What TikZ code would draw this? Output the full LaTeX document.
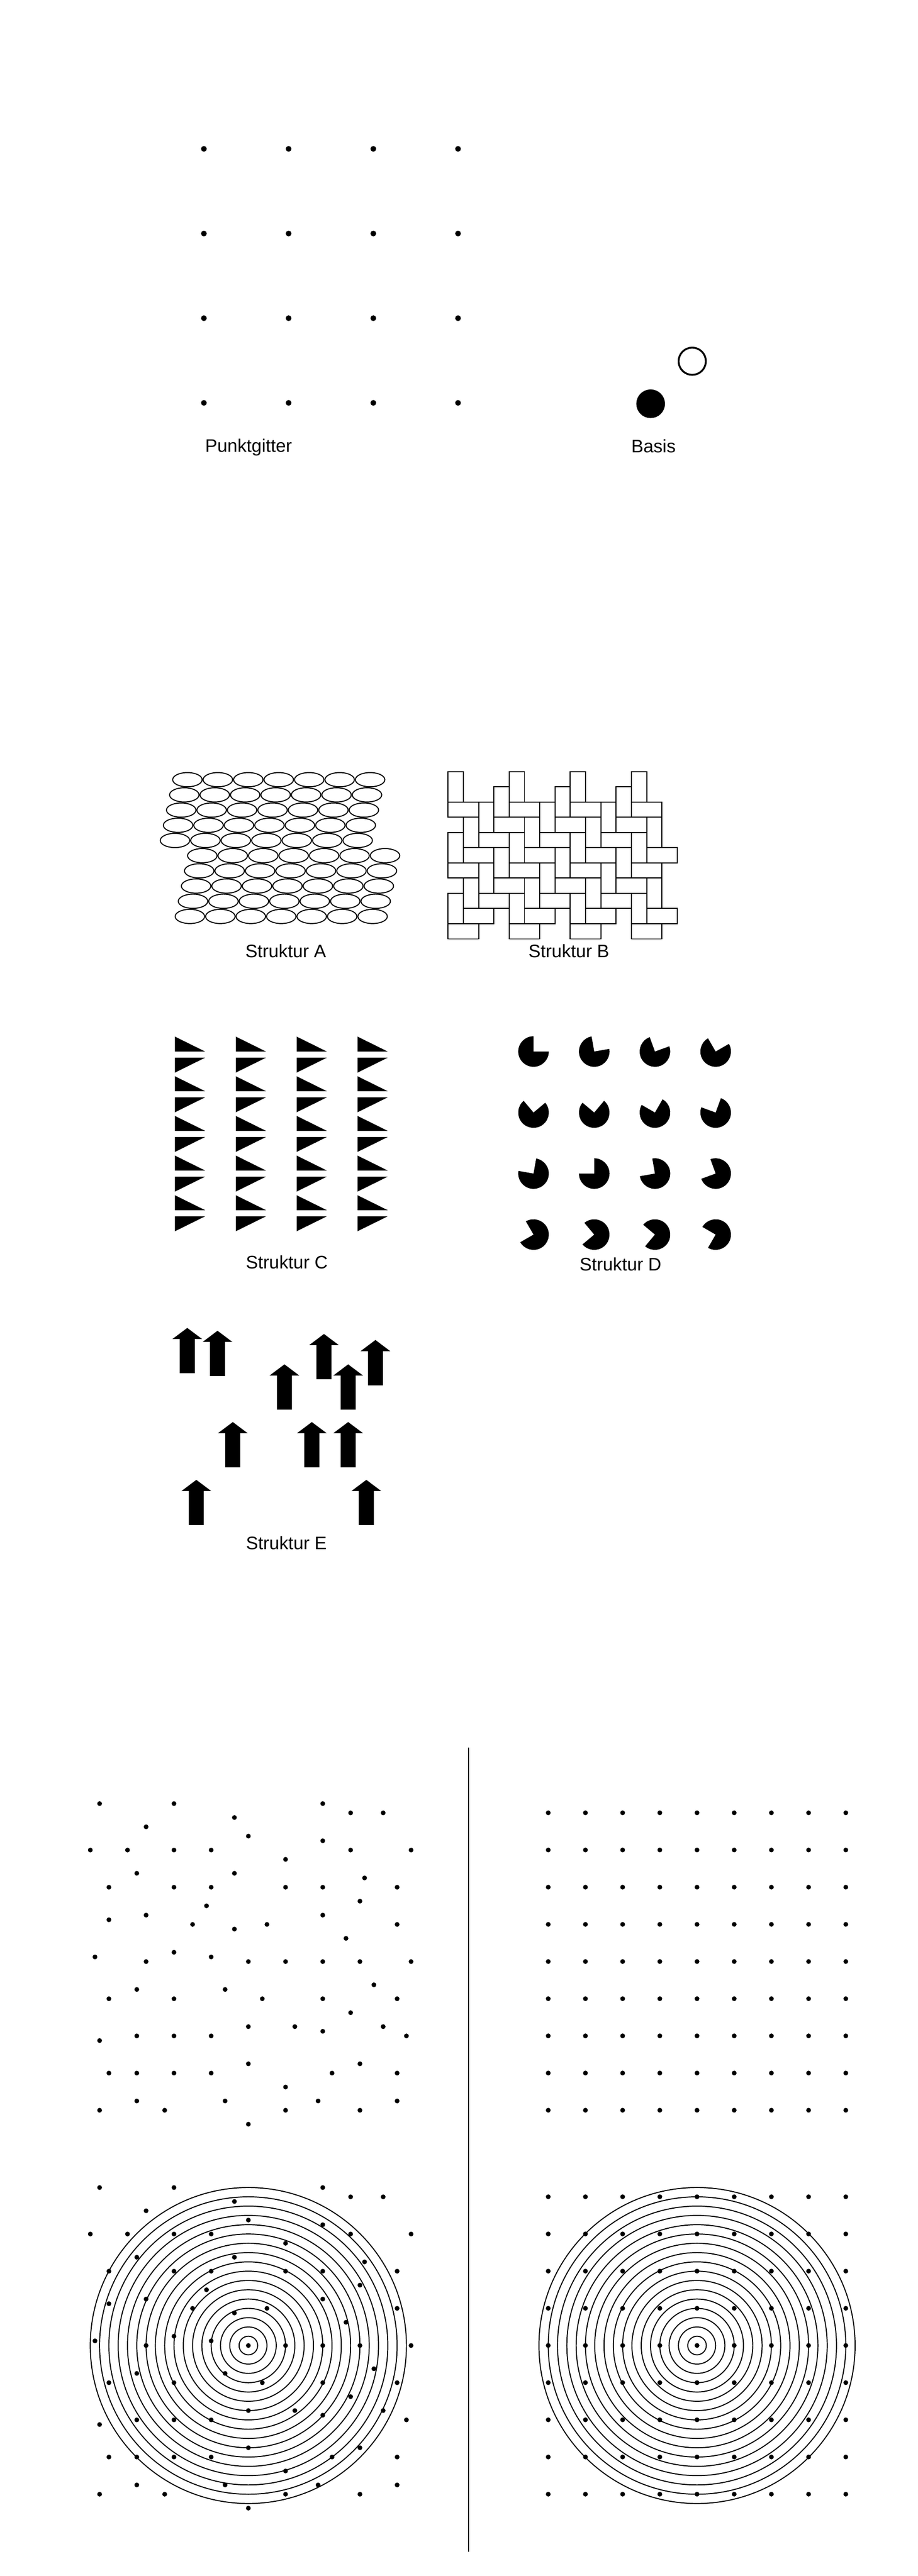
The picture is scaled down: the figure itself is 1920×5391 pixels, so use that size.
\documentclass[tikz,border=0pt]{standalone}
\usepackage{fontspec}
\setmainfont{Liberation Sans}
\usepackage{tikz}

\begin{document}
\begin{tikzpicture}[x=0.01cm, y=-0.01cm,
    lbl/.style={font=\fontsize{10.8}{13}\selectfont, anchor=base, inner sep=0pt},
    thinline/.style={line width=0.6pt}]
\useasboundingbox (0,0) rectangle (1920,5391);

                % Punktgitter
                \foreach \i in {0,...,3}
                  \foreach \j in {0,...,3}
                    \fill (426.5+177.2*\i, 311.5+177.2*\j) circle[radius=6];
                \node[lbl] (punktgitter) at (520, 946) {Punktgitter};

                % Basis
                \fill (1361, 845) circle[radius=30];
                \draw[line width=1.1pt] (1448, 756) circle[radius=28.5];
                \node[lbl] (basis) at (1367, 947) {Basis};

                % Struktur A: ellipses
                \foreach \r in {0,...,9}
                  \foreach \i in {0,...,6} {
                    \pgfmathsetmacro\ex{392-6.5*\r+63.7*\i+(\r>4)*63.7}
                    \draw[thinline] (\ex, 1631.7+31.8*\r) ellipse[x radius=30.8, y radius=14.9];
                  }
                \node[lbl] (strukA) at (597.7, 2004) {Struktur A};

                % Struktur B: herringbone bricks
                \begin{scope}[shift={(937.3,1615)}, x=0.3193cm, y=-0.318cm]
                  \foreach \r in {0,...,8}
                    \foreach \c in {0,...,13} {
                      \pgfmathtruncatemacro\m{mod(\c+\r,4)}
                      \ifnum\m=0 \draw[thinline] (\c,\r) rectangle ++(1,2); \fi
                    }
                  \foreach \r in {2,...,10}
                    \foreach \c in {0,...,13} {
                      \pgfmathtruncatemacro\m{mod(\c+\r+2,4)}
                      \ifnum\m=0 \draw[thinline] (\c,\r) rectangle ++(2,1); \fi
                    }
                \end{scope}
                \node[lbl] (strukB) at (1190, 2004) {Struktur B};

                % Struktur C: triangles
                \foreach \c in {0,...,3}
                  \foreach \k in {0,...,4} {
                    \fill (366+127.3*\c, 2169.4+83*\k) -- ++(0,31.3) -- ++(63.3,0) -- cycle;
                    \fill (366+127.3*\c, 2213.4+83*\k) -- ++(63.3,0) -- (366+127.3*\c, 2244.7+83*\k) -- cycle;
                  }
                \node[lbl] (strukC) at (600, 2654.5) {Struktur C};

                % Struktur D: rotating sectors
                \foreach \j in {0,...,3}
                  \foreach \i in {0,...,3} {
                    \pgfmathsetmacro\a{10*(4*\j+\i)}
                    \fill (1116+127*\i, 2200.6+127.7*\j) -- ++({-\a-90}:32)
                      arc[start angle={-\a-90}, end angle={-\a-360}, radius=32] -- cycle;
                  }
                \node[lbl] (strukD) at (1298, 2659.7) {Struktur D};

                % Struktur E: arrows
                \foreach \tx/\ty in {391.7/2779, 455/2785, 677.7/2791.7, 785.3/2804.3,
                    595/2855.3, 728.3/2855.3, 487/2976, 652.3/2976, 728.3/2976,
                    410.7/3097, 766.3/3097}
                  \fill (\tx,\ty) -- ++(31,23.3) -- ++(-15.3,0) -- ++(0,71.4)
                    -- ++(-31.4,0) -- ++(0,-71.4) -- ++(-15.3,0) -- cycle;
                \node[lbl] (strukE) at (599, 3242.7) {Struktur E};

                % Divider
                \draw[line width=0.75pt] (980, 3657.7) -- (980, 5340);

                % Random dots, top and with rings below
                \foreach \m/\n in {2/0, 18/0, 50/0, 56/2, 63/2, 31/3, 12/5, 34/7, 50/8,
                    0/10, 8/10, 18/10, 26/10, 56/10, 69/10, 42/12, 10/15, 31/15, 59/16,
                    4/18, 18/18, 26/18, 42/18, 50/18, 66/18, 58/21, 25/22, 12/24, 50/24,
                    4/25, 22/26, 38/26, 66/26, 31/27, 55/29, 18/32, 1/33, 26/33,
                    12/34, 34/34, 42/34, 50/34, 58/34, 69/34, 61/39, 10/40, 29/40,
                    4/42, 18/42, 37/42, 50/42, 66/42, 56/45, 34/48, 44/48, 63/48, 50/49,
                    10/50, 18/50, 26/50, 68/50, 2/51, 34/56, 58/56,
                    4/58, 10/58, 18/58, 26/58, 52/58, 66/58, 42/61,
                    10/64, 29/64, 49/64, 66/64, 2/66, 16/66, 42/66, 58/66, 34/69} {
                  \fill (188.9+9.724*\m, 3774.5+9.724*\n) circle[radius=5];
                  \fill (188.9+9.724*\m, 4578+9.724*\n) circle[radius=5];
                }

                % Regular grid, top and with rings below
                \foreach \i in {0,...,8}
                  \foreach \j in {0,...,8} {
                    \fill (1146.8+77.8*\i, 3793.8+77.8*\j) circle[radius=5];
                    \fill (1146.8+77.8*\i, 4597.3+77.8*\j) circle[radius=5];
                  }

                % Concentric rings
                \foreach \k in {1,...,17} {
                  \draw[thinline] (519.5, 4908.6) circle[radius=19.45*\k];
                  \draw[thinline] (1458, 4908.6) circle[radius=19.45*\k];
                }
\end{tikzpicture}
\end{document}
